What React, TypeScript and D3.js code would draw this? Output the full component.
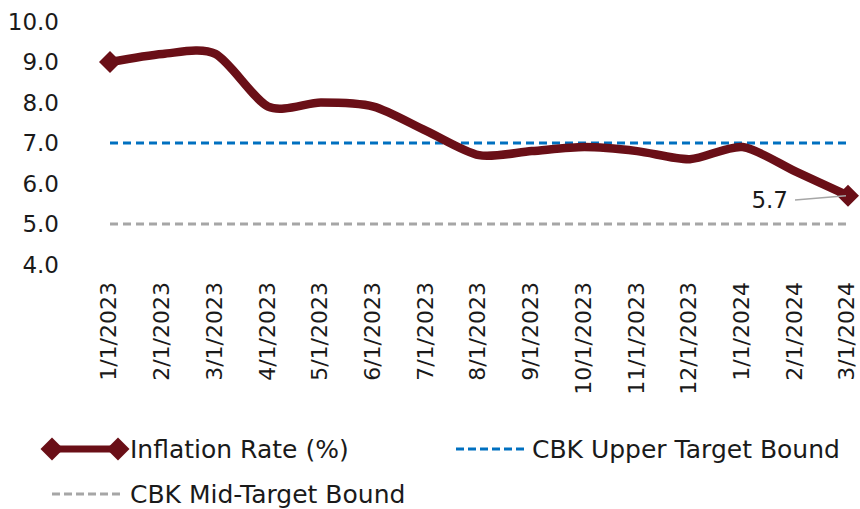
import React from 'react';
import * as d3 from 'd3';

// chart data
const months = [
  '1/1/2023', '2/1/2023', '3/1/2023', '4/1/2023', '5/1/2023', '6/1/2023', '7/1/2023',
  '8/1/2023', '9/1/2023', '10/1/2023', '11/1/2023', '12/1/2023', '1/1/2024', '2/1/2024', '3/1/2024',
];
const inflation = [9.0, 9.2, 9.2, 7.9, 8.0, 7.9, 7.3, 6.7, 6.8, 6.9, 6.8, 6.6, 6.9, 6.3, 5.7];
const upperBound = months.map(() => 7.0);
const midBound = months.map(() => 5.0);
const yTicks = [4, 5, 6, 7, 8, 9, 10];

const W = 860;
const H = 509;
const FONT = '"DejaVu Sans", sans-serif';
const RED = '#6a0f17';
const BLUE = '#0070c0';
const GREY = '#a6a6a6';
const INK = '#1a1a1a';

export default function App() {
  const x = d3.scalePoint<string>().domain(months).range([110, 848]);
  const y = d3.scaleLinear().domain([4, 10]).range([264.5, 21.5]);

  const line = d3.line<number>()
    .x((d, i) => x(months[i]) as number)
    .y((d) => y(d))
    .curve(d3.curveCardinal.tension(0.2));

  const flat = d3.line<number>()
    .x((d, i) => x(months[i]) as number)
    .y((d) => y(d));

  const diamond = (cx: number, cy: number, r: number) =>
    `M${cx - r},${cy}L${cx},${cy - r}L${cx + r},${cy}L${cx},${cy + r}Z`;

  const last = inflation.length - 1;
  const lx = x(months[last]) as number;
  const ly = y(inflation[last]);

  return (
    <svg width={W} height={H} style={{ position: 'absolute', left: 0, top: 0, background: '#fff' }}
      fontFamily={FONT}>
      {/* y axis labels */}
      {yTicks.map((t) => (
        <text key={t} x={59} y={y(t)} dy="0.36em" textAnchor="end" fontSize={23} fill={INK}>
          {t.toFixed(1)}
        </text>
      ))}

      {/* x axis labels */}
      {months.map((m) => (
        <text key={m} transform={`translate(${(x(m) as number) - 1},282) rotate(-90)`}
          dy="0.34em" textAnchor="end" fontSize={22} fill={INK}>
          {m}
        </text>
      ))}

      {/* target bounds */}
      <path d={flat(midBound) as string} fill="none" stroke={GREY} strokeWidth={3} strokeDasharray="8,5" />
      <path d={flat(upperBound) as string} fill="none" stroke={BLUE} strokeWidth={3} strokeDasharray="8,5" />

      {/* inflation line */}
      <path d={line(inflation) as string} fill="none" stroke={RED} strokeWidth={8.5}
        strokeLinejoin="round" strokeLinecap="round" />
      <path d={diamond(x(months[0]) as number, y(inflation[0]), 11)} fill={RED} />
      <path d={diamond(lx, ly, 11)} fill={RED} />

      {/* data label */}
      <line x1={795} y1={200} x2={lx - 2} y2={ly} stroke={GREY} strokeWidth={1.5} />
      <text x={788} y={200} dy="0.36em" textAnchor="end" fontSize={23} fill={INK}>
        {inflation[last].toFixed(1)}
      </text>

      {/* legend */}
      <line x1={52} y1={449} x2={118} y2={449} stroke={RED} strokeWidth={7} />
      <path d={diamond(52, 449, 11.5)} fill={RED} />
      <path d={diamond(118, 449, 11.5)} fill={RED} />
      <text x={130} y={449} dy="0.36em" fontSize={25} fill={INK}>Inflation Rate (%)</text>

      <line x1={456} y1={449} x2={526} y2={449} stroke={BLUE} strokeWidth={3} strokeDasharray="8,4" />
      <text x={532} y={449} dy="0.36em" fontSize={25} fill={INK}>CBK Upper Target Bound</text>

      <line x1={52} y1={494} x2={120} y2={494} stroke={GREY} strokeWidth={3} strokeDasharray="8,4" />
      <text x={130} y={494} dy="0.36em" fontSize={25} fill={INK}>CBK Mid-Target Bound</text>
    </svg>
  );
}
